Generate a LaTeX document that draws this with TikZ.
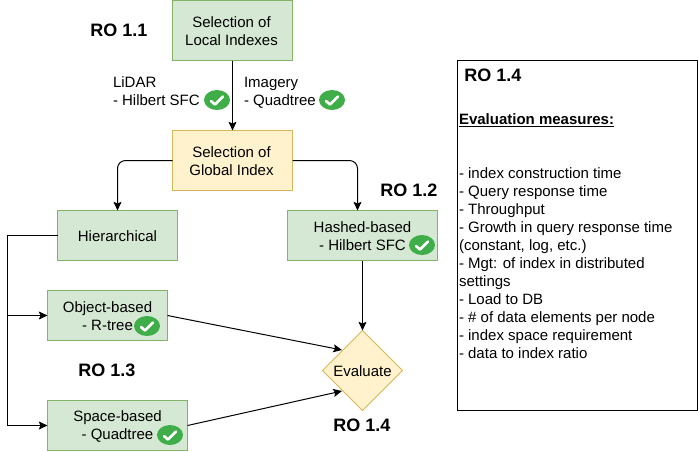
\documentclass[tikz,border=0pt]{standalone}
\usepackage{fontspec}
\setmainfont{Liberation Sans}
\usetikzlibrary{arrows.meta,shapes.geometric}
\definecolor{gfill}{HTML}{D5E8D4}
\definecolor{gline}{HTML}{82B366}
\definecolor{yfill}{HTML}{FFF2CC}
\definecolor{yline}{HTML}{D6B656}
\definecolor{okgreen}{HTML}{3FAE49}
\tikzset{
  base/.style={draw,line width=.75pt,inner sep=0pt,outer sep=0pt,align=center,
    font=\fontsize{11.25}{13.5}\selectfont},
  gbox/.style={base,rectangle,fill=gfill,draw=gline},
  ybox/.style={base,rectangle,fill=yfill,draw=yline},
  ydiamond/.style={base,diamond,aspect=1,fill=yfill,draw=yline},
  lab/.style={inner sep=0pt,outer sep=0pt,align=left,font=\fontsize{11.25}{13.5}\selectfont},
  ctext/.style={lab,align=center,anchor=center},
  rolab/.style={inner sep=0pt,outer sep=0pt,font=\fontsize{13.5}{16}\selectfont\bfseries},
  okmark/.style={ellipse,fill=okgreen,minimum width=19.5pt,minimum height=15pt,inner sep=0pt},
  conn/.style={line width=.75pt,black,-{Stealth[length=6.5pt,width=6pt,inset=1.2pt]}},
  plain/.style={line width=.75pt,black},
}
\newcommand{\okat}[3]{%
  \node[okmark] (#1) at (#2,#3) {};
  \draw[white,line width=2pt,line cap=round,line join=round]
    ([shift={(-6,1)}]#1.center) -- ([shift={(-2,4.5)}]#1.center) -- ([shift={(6,-3.5)}]#1.center);
}
\begin{document}
\begin{tikzpicture}[x=.75pt,y=-.75pt]
\useasboundingbox (0,0) rectangle (698,451);

\node[gbox,minimum width=90pt,minimum height=45pt] (local) at (232.5,30.5) {};
\node[ctext] (localt) at (231.5,31.5) {Selection of\\Local Indexes};
\node[ybox,minimum width=90pt,minimum height=45pt] (global) at (232.5,160.5) {};
\node[ctext] (globalt) at (231.5,161.5) {Selection of\\Global Index};
\node[gbox,minimum width=90pt,minimum height=37.5pt] (hier) at (117.5,235.5) {};
\node[ctext] (hiert) at (117.5,236.5) {Hierarchical};
\node[gbox,minimum width=112.5pt,minimum height=37.5pt] (hash) at (362.5,235.5) {};
\node[ctext] (hasht) at (362.5,236.5) {Hashed-based\\- Hilbert SFC};
\node[gbox,minimum width=90pt,minimum height=37.5pt] (obj) at (107.5,315.5) {};
\node[ctext] (objt) at (107.5,316.5) {Object-based\\- R-tree};
\node[gbox,minimum width=105pt,minimum height=37.5pt] (space) at (117.5,425.5) {};
\node[ctext] (spacet) at (117.5,426.5) {Space-based\\- Quadtree};
\node[ydiamond,minimum width=60pt,minimum height=60pt] (eval) at (362.5,370.5) {};
\node[ctext] (evalt) at (362.5,371) {Evaluate};

\node[lab,anchor=north west] (lidar) at (113,77) {LiDAR\\- Hilbert SFC};
\node[lab,anchor=north west] (imagery) at (244,77) {Imagery\\- Quadtree};

\node[rolab,anchor=center] (ro11) at (119,30) {RO 1.1};
\node[rolab,anchor=center] (ro12) at (409,190) {RO 1.2};
\node[rolab,anchor=center] (ro13) at (107,370) {RO 1.3};
\node[rolab,anchor=center] (ro14) at (362,425) {RO 1.4};

\node[draw,line width=.75pt,fill=white,minimum width=180pt,minimum height=262.5pt,inner sep=0pt,outer sep=0pt] (panel) at (577.5,235.5) {};
\node[rolab,anchor=center] (panelro) at (493,75) {RO 1.4};
\node[lab,anchor=west,font=\fontsize{11.25}{13.5}\selectfont\bfseries] (evalhead) at (459,120) {\underline{Evaluation measures:}};
\node[lab,anchor=north west] (measures) at (459,168) {- index construction time\\
- Query response time\\
- Throughput\\
- Growth in query response time\\
(constant, log, etc.)\\
- Mgt: of index in distributed\\
settings\\
- Load to DB\\
- \# of data elements per node\\
- index space requirement\\
- data to index ratio};

\okat{ok1}{217}{100}
\okat{ok2}{332}{100}
\okat{ok3}{422}{245}
\okat{ok4}{147}{326}
\okat{ok5}{170}{435}

\coordinate (spine) at (7.5,235.5);
\coordinate (spineA) at (7.5,315.5);
\coordinate (spineB) at (7.5,425.5);
\coordinate (hashin) at (357.5,210.5);
\coordinate (hashout) at (362.5,260.5);
\coordinate (evalL) at (342,350);
\coordinate (evalB) at (342,391);

\draw[conn] (local.south) -- (global.north);
\draw[conn,rounded corners=6pt] (global.west) -| (hier.north);
\draw[conn,rounded corners=6pt] (global.east) -| (hashin);
\draw[plain] (hier.west) -- (spine) -- (spineB);
\draw[conn] (spineA) -- (obj.west);
\draw[conn] (spineB) -- (space.west);
\draw[conn] (hashout) -- (eval.north);
\draw[conn] (obj.east) -- (evalL);
\draw[conn] (space.east) -- (evalB);
\end{tikzpicture}
\end{document}
